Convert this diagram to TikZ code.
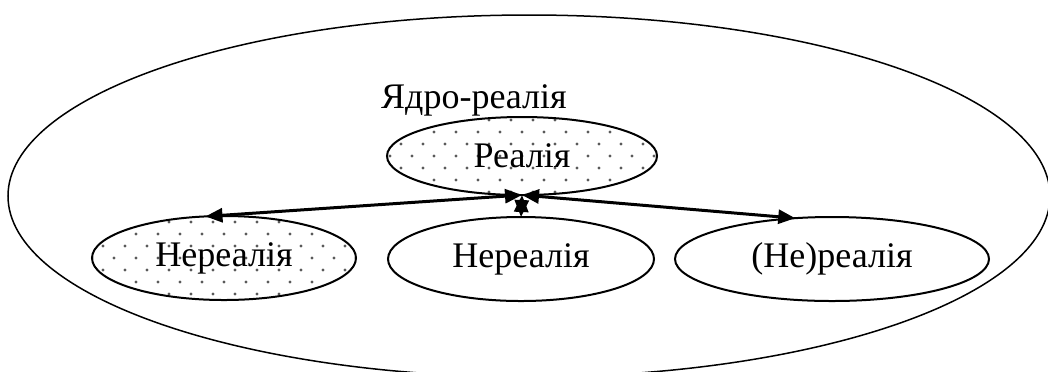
\documentclass[tikz,border=0pt]{standalone}
\usepackage{fontspec}
\setmainfont{Liberation Serif}
\usetikzlibrary{shapes.geometric,arrows.meta,calc}
\begin{document}
\begin{tikzpicture}[x=0.5pt,y=-0.5pt,
  every node/.style={font=\fontsize{18}{21}\selectfont},
  oval/.style={ellipse, draw, line width=1pt, inner sep=0pt, outer sep=0pt},
  dotfill/.style={path picture={
    \foreach \j [evaluate=\j as \off using {mod(\j+10,2)*11}] in {-4,...,4}{
      \foreach \i in {-7,...,7}{
        \fill[black!65] ($(path picture bounding box.center)+(\i*22+\off,\j*12)$) circle (0.85pt);
      }
    }}},
  link/.style={line width=1.5pt, {Triangle[length=8.5pt,width=7pt]}-{Triangle[length=8.5pt,width=7pt]}}
]
\useasboundingbox (0,0) rectangle (1048,371);
\clip (0,0) rectangle (1048,371);
\node[ellipse, draw, line width=0.75pt, inner sep=0pt, outer sep=0pt,
      minimum width=521pt, minimum height=181pt] (outer) at (529,196) {};
\node[anchor=base] (core) at (474,108) {Ядро-реалія};
\node[oval, dotfill, minimum width=135pt, minimum height=39pt] (R) at (522,156) {Реалія};
\node[oval, dotfill, minimum width=132pt, minimum height=42pt] (L) at (224,258) {Нереалія};
\node[oval, minimum width=133pt, minimum height=42pt] (M) at (521,259) {Нереалія};
\node[oval, minimum width=157pt, minimum height=42pt] (Rt) at (832,259) {(Не)реалія};
\draw[link] (L.114) -- (R.south);
\draw[link] (R.south) -- (M.north);
\draw[link] (R.south) -- (Rt.132);
\end{tikzpicture}
\end{document}
